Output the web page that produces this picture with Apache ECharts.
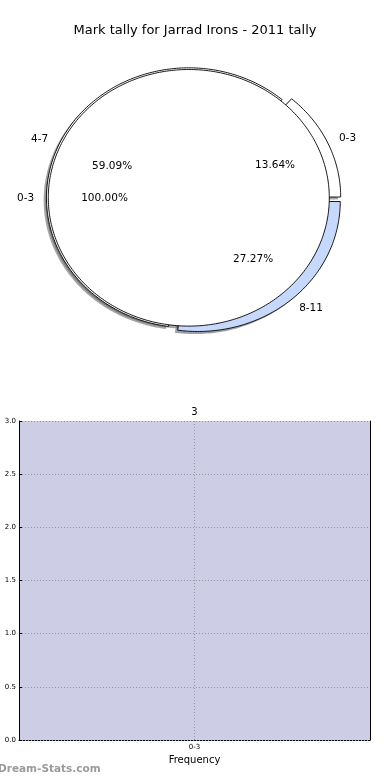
<!DOCTYPE html>
<html><head><meta charset="utf-8">
<script src="https://cdn.jsdelivr.net/npm/echarts@6/dist/echarts.min.js"></script>
<style>html,body{margin:0;padding:0;background:#fff}#c{width:390px;height:780px}</style>
</head><body><div id="c"></div>
<script>
// ---- data ----
const titleText = 'Mark tally for Jarrad Irons - 2011 tally';
const outerLabels = ['0-3', '4-7', '8-11'];
const outerValues = [3, 13, 6];
const innerLabels = ['0-3'];
const innerValues = [3];
const barCategories = ['0-3'];
const barValues = [3];
const yTickValues = [0, 0.5, 1, 1.5, 2, 2.5, 3];

// ---- styles ----
const FONT = '"DejaVu Sans", sans-serif';
const outerColors = ['#ffffff', '#ffffff', '#c6d9fd'];
const outerShadow = ['rgba(77,77,77,0.5)', 'rgba(77,77,77,0.5)', 'rgba(59,65,76,0.5)'];
const outerRadius = [1.013, 1.013, 1.013];
const outerShift = [[0.068, 0.006], [0, 0], [0.065, -0.029]];
const innerColors = ['#ffffff'];
const innerShadow = ['rgba(77,77,77,0.5)'];

function toSlices(values) {
  const tot = values.reduce((a, b) => a + b, 0);
  let acc = 0;
  return values.map(v => {
    const s = acc / tot * 360; acc += v;
    return { start: s, end: acc / tot * 360, pct: v / tot * 100 };
  });
}
const outerSlices = toSlices(outerValues);
const innerSlices = toSlices(innerValues);

function wedgePoints(api, s, r, shift, dx, dy) {
  const cx = shift[0] + dx, cy = shift[1] + dy;
  const pts = [];
  const full = s.end - s.start >= 359.999;
  if (!full) pts.push(api.coord([cx, cy]));
  const n = Math.max(12, Math.ceil(s.end - s.start));
  for (let k = 0; k <= n; k++) {
    const a = (s.start + (s.end - s.start) * k / n) * Math.PI / 180;
    pts.push(api.coord([cx + r * Math.cos(a), cy + r * Math.sin(a)]));
  }
  return pts;
}

function wedgeSeries(slices, radius, shift, colors, strokeColor, z, dx, dy) {
  return {
    type: 'custom', coordinateSystem: 'cartesian2d', xAxisIndex: 0, yAxisIndex: 0,
    z: z, silent: true, clip: false,
    data: slices.map((s, i) => [i]),
    renderItem: function (params, api) {
      const i = params.dataIndex, s = slices[i];
      return {
        type: 'polygon',
        shape: { points: wedgePoints(api, s, radius[i], shift[i], dx, dy) },
        style: strokeColor ? { fill: colors[i], stroke: strokeColor, lineWidth: 0.9 } : { fill: colors[i] }
      };
    }
  };
}

function labelSeries(slices, labels, shift, z) {
  return {
    type: 'custom', coordinateSystem: 'cartesian2d', xAxisIndex: 0, yAxisIndex: 0,
    z: z, silent: true, clip: false,
    data: slices.map((s, i) => [i]),
    renderItem: function (params, api) {
      const i = params.dataIndex, s = slices[i];
      const mid = (s.start + s.end) / 2 * Math.PI / 180;
      const lx = 1.1 * Math.cos(mid) + shift[i][0], ly = 1.1 * Math.sin(mid) + shift[i][1];
      const px = 0.6 * Math.cos(mid) + shift[i][0], py = 0.6 * Math.sin(mid) + shift[i][1];
      const lp = api.coord([lx, ly]), pp = api.coord([px, py]);
      return {
        type: 'group',
        children: [
          { type: 'text', x: lp[0], y: lp[1],
            style: { text: labels[i], fill: '#000', fontSize: 10.5, fontFamily: FONT,
              align: lx > 0 ? 'left' : 'right', verticalAlign: 'middle' } },
          { type: 'text', x: pp[0], y: pp[1],
            style: { text: s.pct.toFixed(2) + '%', fill: '#000', fontSize: 10.5, fontFamily: FONT,
              align: 'center', verticalAlign: 'middle' } }
        ]
      };
    }
  };
}

// pie grid geometry: unit = 140.5 px (x), 128.3 px (y); centre (188.8,197.8)
const RX = 140.5, RY = 128.3, CX = 188.8, CY = 197.8, EXT = 1.3;

const chart = echarts.init(document.getElementById('c'), null, { renderer: 'canvas' });
chart.setOption({
  backgroundColor: '#ffffff',
  animation: false,
  textStyle: { fontFamily: FONT },
  title: {
    text: titleText, left: 'center', top: 24, padding: 0,
    textStyle: { fontSize: 13, fontWeight: 'normal', color: '#000', fontFamily: FONT }
  },
  grid: [
    { left: CX - EXT * RX, top: CY - EXT * RY, width: 2 * EXT * RX, height: 2 * EXT * RY },
    { left: 19, top: 421, width: 351, height: 319 }
  ],
  xAxis: [
    { gridIndex: 0, type: 'value', min: -EXT, max: EXT, show: false },
    { gridIndex: 1, type: 'category', data: barCategories, position: 'bottom',
      axisLine: { show: false }, axisTick: { show: false },
      axisLabel: { fontSize: 7, color: '#000', margin: 4 },
      name: 'Frequency', nameLocation: 'middle', nameGap: 15,
      nameTextStyle: { fontSize: 10, color: '#000' } },
    { gridIndex: 1, type: 'category', data: barCategories, position: 'top',
      axisLine: { show: true, lineStyle: { color: '#000', width: 1 } },
      axisTick: { show: false }, axisLabel: { show: false } }
  ],
  yAxis: [
    { gridIndex: 0, type: 'value', min: -EXT, max: EXT, show: false },
    { gridIndex: 1, type: 'value', min: 0, max: 3, interval: 0.5, z: 5,
      axisLine: { show: true, lineStyle: { color: '#000', width: 1 } },
      axisTick: { show: true, inside: true, length: 3, lineStyle: { color: '#000' } },
      axisLabel: { fontSize: 7, color: '#000', margin: 3,
        formatter: v => (yTickValues.indexOf(v) >= 0 ? v.toFixed(1) : '') },
      splitLine: { show: true, lineStyle: { type: [1, 2], color: '#9494a4', width: 1 } } },
    { gridIndex: 1, type: 'value', min: 0, max: 3, interval: 0.5, position: 'right',
      axisLine: { show: true, lineStyle: { color: '#000', width: 1 } },
      axisTick: { show: false }, axisLabel: { show: false }, splitLine: { show: false } }
  ],
  graphic: [
    { type: 'text', left: -2, top: 764,
      style: { text: 'Dream-Stats.com', fill: '#9a9a9a', fontSize: 10.5, fontWeight: 'bold', fontFamily: FONT } }
  ],
  series: [
    wedgeSeries(outerSlices, outerRadius, outerShift, outerShadow, null, 1, -0.02, -0.02),
    wedgeSeries(innerSlices, [1], [[0, 0]], innerShadow, null, 1, -0.02, -0.02),
    wedgeSeries(outerSlices, outerRadius, outerShift, outerColors, '#000', 2, 0, 0),
    wedgeSeries(innerSlices, [1], [[0, 0]], innerColors, '#000', 3, 0, 0),
    labelSeries(outerSlices, outerLabels, outerShift, 10),
    labelSeries(innerSlices, innerLabels, [[0, 0]], 10),
    { type: 'bar', xAxisIndex: 1, yAxisIndex: 1, data: barValues, barWidth: '100%', z: 2,
      itemStyle: { color: '#cdcde6' },
      label: { show: true, position: 'top', distance: 4, fontSize: 10, color: '#000' },
      markLine: { silent: true, symbol: 'none', label: { show: false },
        lineStyle: { type: [1, 2], color: '#9494a4', width: 1 },
        data: [{ xAxis: 0 }] } }
  ]
});
</script>
</body></html>
